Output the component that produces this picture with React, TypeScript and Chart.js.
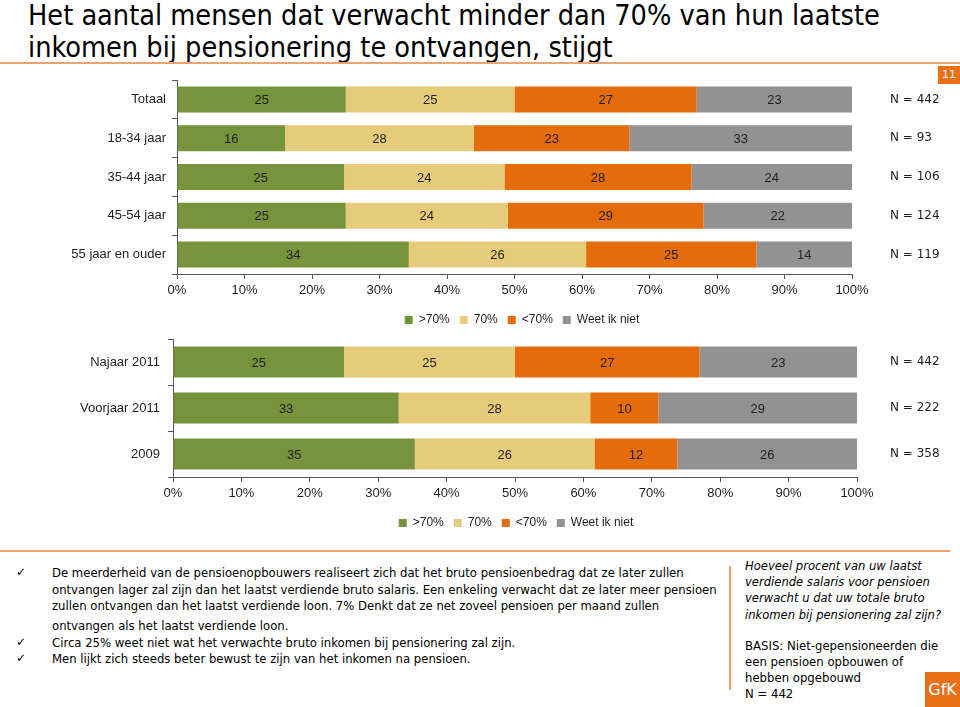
import React, { useEffect, useLayoutEffect, useRef } from 'react';
import { Chart, registerables } from 'chart.js';

Chart.register(...registerables);

// ---------- data ----------
const seriesNames = ['>70%', '70%', '<70%', 'Weet ik niet'];
const seriesColors = ['#77933C', '#E6CC7A', '#E46C0A', '#929292'];

const groupCategories = ['Totaal', '18-34 jaar', '35-44 jaar', '45-54 jaar', '55 jaar en ouder'];
const groupN = ['N = 442', 'N = 93', 'N = 106', 'N = 124', 'N = 119'];
const groupAbove70 = [25, 16, 25, 25, 34];
const group70 = [25, 28, 24, 24, 26];
const groupBelow70 = [27, 23, 28, 29, 25];
const groupDontKnow = [23, 33, 24, 22, 14];

const trendCategories = ['Najaar 2011', 'Voorjaar 2011', '2009'];
const trendN = ['N = 442', 'N = 222', 'N = 358'];
const trendAbove70 = [25, 33, 35];
const trend70 = [25, 28, 26];
const trendBelow70 = [27, 10, 12];
const trendDontKnow = [23, 29, 26];

const axisMin = 0;
const axisMax = 100;
const axisStep = 10;

const titleLines = [
  'Het aantal mensen dat verwacht minder dan 70% van hun laatste',
  'inkomen bij pensionering te ontvangen, stijgt',
];
const bulletLines = [
  'De meerderheid van de pensioenopbouwers realiseert zich dat het bruto pensioenbedrag dat ze later zullen',
  'ontvangen lager zal zijn dan het laatst verdiende bruto salaris. Een enkeling verwacht dat ze later meer pensioen',
  'zullen ontvangen dan het laatst verdiende loon. 7% Denkt dat ze net zoveel pensioen per maand zullen',
  'ontvangen als het laatst verdiende loon.',
  'Circa 25% weet niet wat het verwachte bruto inkomen bij pensionering zal zijn.',
  'Men lijkt zich steeds beter bewust te zijn van het inkomen na pensioen.',
];
const questionLines = [
  'Hoeveel procent van uw laatst',
  'verdiende salaris voor pensioen',
  'verwacht u dat uw totale bruto',
  'inkomen bij pensionering zal zijn?',
];
const basisLines = [
  'BASIS: Niet-gepensioneerden die',
  'een pensioen opbouwen of',
  'hebben opgebouwd',
  'N = 442',
];

// ---------- chart helpers ----------
const labelFamily = '"Liberation Sans", Arial, sans-serif';
const textColor = '#1e1e1e';
const axisColor = '#555555';

const segmentLabels = {
  id: 'segmentLabels',
  afterDatasetsDraw(chart: any) {
    const ctx = chart.ctx;
    ctx.save();
    ctx.font = '13px ' + labelFamily;
    ctx.fillStyle = textColor;
    ctx.textAlign = 'center';
    ctx.textBaseline = 'middle';
    chart.data.datasets.forEach((ds: any, i: number) => {
      const meta = chart.getDatasetMeta(i);
      if (meta.hidden) return;
      meta.data.forEach((el: any, j: number) => {
        const p = el.getProps(['x', 'y', 'base'], true);
        ctx.fillText(String(ds.shown[j]), (p.x + p.base) / 2, p.y + 1);
      });
    });
    ctx.restore();
  },
};

type Dims = { leftW: number; rightW: number; padTop: number; labelPad: number; nPad: number };

function zeroPad(s: any) {
  s.paddingTop = 0;
  s.paddingBottom = 0;
}

function buildChart(canvas: HTMLCanvasElement, categories: string[], nLabels: string[], series: number[][], dims: Dims) {
  const rowSums = categories.map((_, j) => series.reduce((s, v) => s + v[j], 0));
  const datasets = series.map((vals, i) => ({
    label: seriesNames[i],
    data: vals.map((v, j) => (v / rowSums[j]) * 100),
    shown: vals,
    backgroundColor: seriesColors[i],
    borderWidth: 0,
    barPercentage: 0.67,
    categoryPercentage: 1,
    xAxisID: 'x',
    yAxisID: 'y',
  }));
  return new Chart(canvas, {
    type: 'bar',
    data: { labels: categories, datasets } as any,
    options: {
      indexAxis: 'y',
      responsive: false,
      animation: false,
      layout: { padding: { top: dims.padTop, left: 0, right: 0, bottom: 0 } },
      plugins: {
        legend: {
          position: 'bottom',
          labels: {
            boxWidth: 8,
            boxHeight: 8,
            padding: 10,
            color: textColor,
            font: { size: 12, family: labelFamily },
          },
        },
        tooltip: { enabled: false },
      },
      scales: {
        x: {
          type: 'linear',
          stacked: true,
          min: axisMin,
          max: axisMax,
          ticks: {
            stepSize: axisStep,
            callback: (v: any) => v + '%',
            color: textColor,
            font: { size: 13, family: labelFamily },
            padding: 4,
          },
          grid: { drawOnChartArea: false, tickLength: 5, color: axisColor },
          border: { color: axisColor },
          afterFit: (s: any) => {
            s.height = 30;
            s.paddingLeft = 0;
            s.paddingRight = 0;
          },
        },
        y: {
          type: 'category',
          stacked: true,
          position: 'left',
          offset: true,
          grid: { offset: true, drawOnChartArea: false, tickLength: 5, color: axisColor },
          border: { color: axisColor },
          ticks: { color: textColor, font: { size: 13, family: labelFamily }, padding: dims.labelPad },
          afterFit: (s: any) => {
            s.width = dims.leftW;
            zeroPad(s);
          },
        },
        n: {
          type: 'category',
          labels: nLabels,
          position: 'right',
          offset: true,
          grid: { display: false, drawTicks: false },
          border: { display: false },
          ticks: { color: textColor, font: { size: 12, family: '"DejaVu Sans", sans-serif' }, padding: dims.nPad },
          afterFit: (s: any) => {
            s.width = dims.rightW;
            zeroPad(s);
          },
        },
      },
    } as any,
    plugins: [segmentLabels],
  });
}

function BarChart(props: {
  left: number; top: number; width: number; height: number;
  categories: string[]; nLabels: string[]; series: number[][]; dims: Dims;
}) {
  const ref = useRef<HTMLCanvasElement>(null);
  useEffect(() => {
    if (!ref.current) return;
    const c = buildChart(ref.current, props.categories, props.nLabels, props.series, props.dims);
    return () => c.destroy();
  }, []);
  return (
    <canvas
      ref={ref}
      width={props.width}
      height={props.height}
      style={{ position: 'absolute', left: props.left, top: props.top, width: props.width, height: props.height }}
    />
  );
}

// ---------- text helper (fits a block's reference line to a target width) ----------
function FitLines(props: {
  lines: string[]; left: number; centers: number[]; lineHeight: number; font: string;
  refIndex: number; targetWidth: number; color?: string; fontStyle?: string;
}) {
  const ref = useRef<HTMLDivElement>(null);
  useLayoutEffect(() => {
    const el = ref.current;
    if (!el) return;
    const spans = el.querySelectorAll('span');
    const w = (spans[props.refIndex] as HTMLElement).offsetWidth;
    if (w > 0) el.style.transform = `scaleX(${props.targetWidth / w})`;
  }, []);
  return (
    <div ref={ref} style={{ position: 'absolute', left: props.left, top: 0, transformOrigin: 'left top' }}>
      {props.lines.map((t, i) => (
        <div
          key={i}
          style={{
            position: 'absolute', left: 0, top: props.centers[i] - props.lineHeight / 2,
            whiteSpace: 'nowrap', lineHeight: props.lineHeight + 'px', font: props.font,
            fontStyle: props.fontStyle || 'normal', color: props.color || '#000',
          }}
        >
          <span>{t}</span>
        </div>
      ))}
    </div>
  );
}

const orangeLine = '#EBA46B';
const orangeBox = '#E8711A';
const condensed = '"DejaVu Sans Condensed", "DejaVu Sans", sans-serif';

export default function App() {
  return (
    <div style={{ position: 'absolute', left: 0, top: 0, width: 960, height: 707, overflow: 'hidden', background: '#fff' }}>
      <FitLines
        lines={titleLines} left={28} centers={[14, 46]} lineHeight={32}
        font={'29px ' + condensed} refIndex={0} targetWidth={852}
      />
      <div style={{ position: 'absolute', left: 0, top: 62, width: 960, height: 2, background: orangeLine }} />
      <div style={{
        position: 'absolute', left: 938, top: 66, width: 22, height: 18, background: orangeBox, color: '#fff',
        font: '11px "DejaVu Sans", sans-serif', lineHeight: '18px', textAlign: 'center',
      }}>11</div>

      <BarChart
        left={68} top={70} width={908} height={266}
        categories={groupCategories} nLabels={groupN}
        series={[groupAbove70, group70, groupBelow70, groupDontKnow]}
        dims={{ leftW: 109, rightW: 124, padTop: 10, labelPad: 6, nPad: 38 }}
      />
      <BarChart
        left={80} top={336} width={872} height={203}
        categories={trendCategories} nLabels={trendN}
        series={[trendAbove70, trend70, trendBelow70, trendDontKnow]}
        dims={{ leftW: 93, rightW: 95, padTop: 3, labelPad: 8, nPad: 33 }}
      />

      <div style={{ position: 'absolute', left: 0, top: 550, width: 950, height: 2, background: orangeLine }} />
      <div style={{ position: 'absolute', left: 729, top: 566, width: 2, height: 124, background: orangeLine }} />

      {[573, 643, 659].map((c, i) => (
        <div key={i} style={{
          position: 'absolute', left: 16, top: c - 8, lineHeight: '16px',
          font: '12px "DejaVu Sans", sans-serif', color: '#000',
        }}>✓</div>
      ))}
      <FitLines
        lines={bulletLines} left={52} centers={[573, 590, 606, 626, 643, 659]} lineHeight={16}
        font={'13px ' + condensed} refIndex={1} targetWidth={665}
      />
      <FitLines
        lines={questionLines} left={745} centers={[566, 582, 598, 615]} lineHeight={16}
        font={'13px ' + condensed} fontStyle='italic' refIndex={0} targetWidth={177}
      />
      <FitLines
        lines={basisLines} left={745} centers={[646, 662, 678, 694]} lineHeight={16}
        font={'13px ' + condensed} refIndex={0} targetWidth={193}
      />
      <div style={{
        position: 'absolute', left: 925, top: 672, width: 35, height: 35, background: orangeBox, color: '#fff',
        font: '16px "DejaVu Sans", sans-serif', lineHeight: '35px', textAlign: 'center',
      }}>GfK</div>
    </div>
  );
}
